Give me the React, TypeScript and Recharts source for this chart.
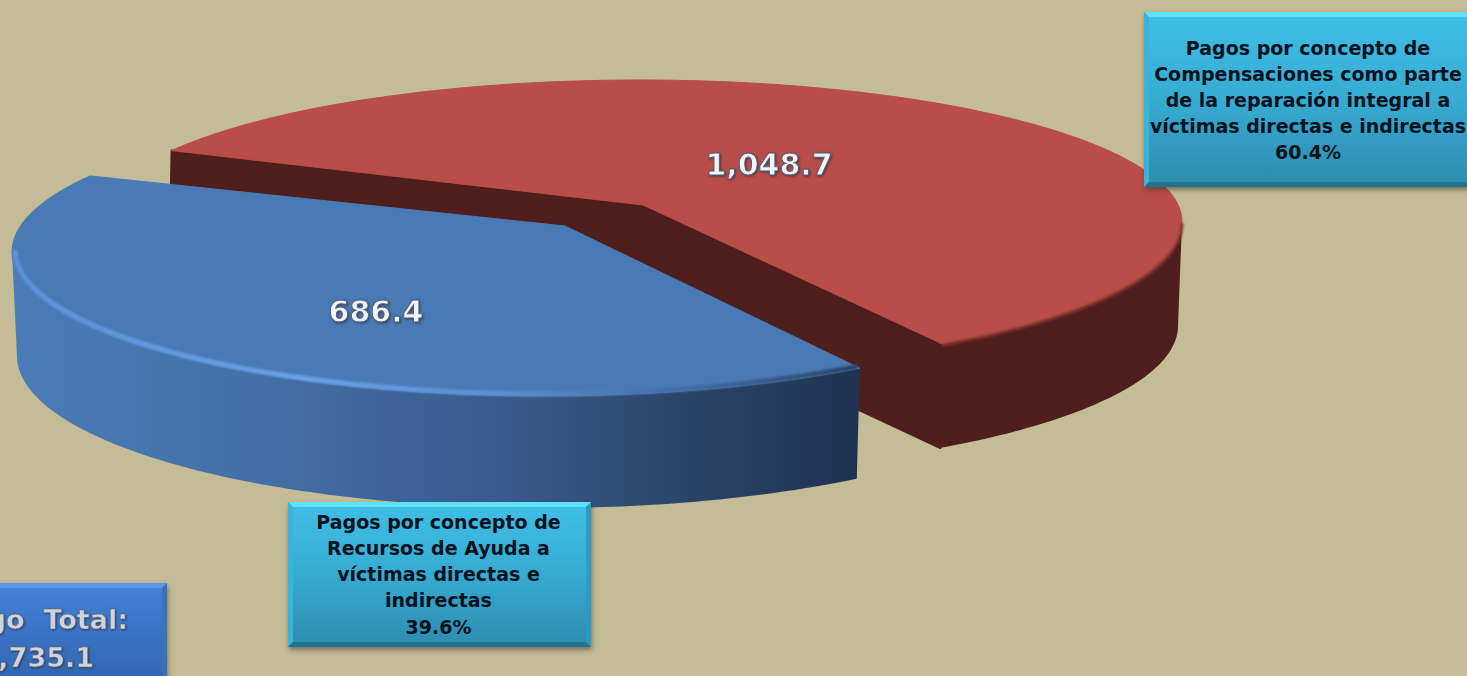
import React from "react";
import { PieChart, Pie, Cell } from "recharts";

// ---- data ----
const categories = ["Compensaciones", "Recursos de Ayuda"];
const seriesValues = [1048.7, 686.4];
const valueLabels = ["1,048.7", "686.4"];
const compensacionLines = [
  "Pagos por concepto de",
  "Compensaciones como parte",
  "de la reparación integral a",
  "víctimas directas e indirectas",
  "60.4%",
];
const ayudaLines = [
  "Pagos por concepto de",
  "Recursos de Ayuda a",
  "víctimas directas e",
  "indirectas",
  "39.6%",
];
const totalLines = ["Pago\u00A0\u00A0Total:", "1,735.1"];

const tableData = categories.map((name, i) => ({ name, value: seriesValues[i], idx: i }));

// ---- layout / style (not data) ----
const W = 1467;
const H = 676;
const BG = "#c4bc96";
const FONT = "'DejaVu Sans', Verdana, sans-serif";

const slices = [
  {
    cx: 640, cy: 222, rx: 542, ry: 142, ryFront: 147, ryBase: 147, ax: 643, ay: 205, dy: 104, shrink: 4,
    from: -56.1, to: 149.8, top: "#b84d49", wall: "#4e1e1c", wallFill: "#4e1e1c",
    wallFrom: -56.1, wallTo: 0, labelX: 769, labelY: 175,
  },
  {
    cx: 545, cy: 252, rx: 533, ry: 146, ryFront: 144, ryBase: 152, ax: 565, ay: 226, dy: 104, shrink: 5,
    from: 148.6, to: 306.2, top: "#4a7ab5", wall: "#1f3350", wallFill: "url(#blueWall)",
    wallFrom: 180, wallTo: 306.2, labelX: 376, labelY: 322,
  },
];

const pt = (s: any, deg: number, dx = 0, dy = 0, base = false) => {
  const r = (deg * Math.PI) / 180;
  const sn = Math.sin(r);
  const ry = sn < 0 ? (base ? s.ryBase : s.ryFront) : s.ry;
  return [s.cx + (s.rx + dx) * Math.cos(r), s.cy + dy - ry * sn];
};

const arcPts = (s: any, a: number, b: number, dx = 0, dy = 0, base = false) => {
  const out: number[][] = [];
  const n = Math.max(8, Math.ceil(Math.abs(b - a)));
  for (let i = 0; i <= n; i++) out.push(pt(s, a + ((b - a) * i) / n, dx, dy, base));
  return out;
};

const toPath = (pts: number[][], close = false) =>
  pts.map((p, i) => `${i ? "L" : "M"}${p[0].toFixed(1)} ${p[1].toFixed(1)}`).join(" ") + (close ? " Z" : "");

// Tilted, exploded slice: recharts supplies the angular layout, the slice is projected on its ellipse.
const Slice3D = (props: any) => {
  const idx = props.idx ?? props.payload?.idx ?? 0;
  const s = slices[idx];
  const span = props.endAngle - props.startAngle;
  const project = (a: number) => s.from + ((a - props.startAngle) / span) * (s.to - s.from);
  const start = project(props.startAngle);
  const end = project(props.endAngle);
  const topArc = arcPts(s, start, end);
  const topPath = toPath([[s.ax, s.ay], ...topArc], true);

  const a0 = pt(s, start);
  const a1 = pt(s, end);
  const cut = (p: number[]) => [p, [s.ax, s.ay], [s.ax, s.ay + s.dy], [p[0] - 2, p[1] + s.dy]];
  const wallTop = arcPts(s, s.wallFrom, s.wallTo);
  const wallBottom = arcPts(s, s.wallFrom, s.wallTo, -s.shrink, s.dy, true).reverse();
  const rim = idx === 1 ? arcPts(s, s.wallFrom, s.wallTo, -3, -2) : arcPts(s, s.wallFrom, s.wallTo, 0, 1);

  return (
    <g>
      {idx === 0 && (
        <>
          <path d={toPath(cut(a0), true)} fill={s.wall} stroke={s.wall} strokeWidth={2} strokeLinejoin="round" />
          <path d={toPath(cut(a1), true)} fill={s.wall} stroke={s.wall} strokeWidth={2} strokeLinejoin="round" />
        </>
      )}
      <path d={toPath([...wallTop, ...wallBottom], true)} fill={s.wallFill} />
      <path d={topPath} fill={s.top} stroke={s.top} strokeWidth={1} strokeLinejoin="round" />
      {idx === 1 ? (
        <path d={toPath(rim)} fill="none" stroke="url(#blueRim)" strokeWidth={5} filter="url(#soft)" />
      ) : (
        <path d={toPath(rim)} fill="none" stroke="#84352f" strokeWidth={3} filter="url(#soft)" />
      )}
    </g>
  );
};

const Box = ({ x, y, w, h, lines, lineYs, textX, blue }: any) => {
  const b = 5;
  const c = blue
    ? { fill: "url(#boxBlue)", top: "#5f97e6", left: "#3f78c4", right: "#3a70bc", bottom: "#2a5a9a" }
    : { fill: "url(#boxCyan)", top: "#5fe2f8", left: "#38b4da", right: "#2f9ac0", bottom: "#237290" };
  return (
    <g>
      <rect x={x + 1} y={y + 3} width={w} height={h} fill="#3a3a2c" opacity={0.55} filter="url(#shadow)" />
      <rect x={x} y={y} width={w} height={h} fill={c.fill} />
      <polygon points={`${x},${y} ${x + w},${y} ${x + w - b},${y + b} ${x + b},${y + b}`} fill={c.top} />
      <polygon points={`${x},${y} ${x + b},${y + b} ${x + b},${y + h - b} ${x},${y + h}`} fill={c.left} />
      <polygon points={`${x + w},${y} ${x + w - b},${y + b} ${x + w - b},${y + h - b} ${x + w},${y + h}`} fill={c.right} />
      <polygon points={`${x},${y + h} ${x + b},${y + h - b} ${x + w - b},${y + h - b} ${x + w},${y + h}`} fill={c.bottom} />
      {lines.map((t: string, i: number) => (
        <text
          key={i}
          x={textX}
          y={lineYs[i]}
          textAnchor="middle"
          fontFamily={FONT}
          fontWeight={700}
          fontSize={19}
          fill="#06121e"
        >
          {t}
        </text>
      ))}
    </g>
  );
};

const TotalBox = () => (
  <g>
    <Box x={-120} y={583} w={287} h={110} lines={[]} lineYs={[]} blue />
    {totalLines.map((t, i) => (
      <text
        key={t}
        x={i === 0 ? 128 : 94}
        y={i === 0 ? 629 : 667}
        textAnchor="end"
        fontFamily={FONT}
        fontWeight={700}
        fontSize={27}
        fill="#cfd4dc"
        stroke="#5a6470"
        strokeWidth={0.5}
        filter="url(#textShadow)"
      >
        {t}
      </text>
    ))}
  </g>
);

// Label layer sits above the slices, so the call-outs go here with each slice's value.
const SliceLabel = (props: any) => {
  const i = props.index;
  const s = slices[i];
  return (
    <g>
      {i === 0 ? (
        <Box x={1144} y={12} w={330} h={175} textX={1308} lines={compensacionLines} lineYs={[55, 81, 107, 133, 159]} />
      ) : (
        <>
          <Box x={288} y={502} w={303} h={145} textX={438.5} lines={ayudaLines} lineYs={[529, 555, 581, 607, 634]} />
          <TotalBox />
        </>
      )}
      <text
        x={s.labelX}
        y={s.labelY}
        textAnchor="middle"
        fontFamily={FONT}
        fontWeight={700}
        fontSize={30}
        fill="#f1f4f8"
        stroke="#4a5a78"
        strokeWidth={0.9}
        filter="url(#textShadow)"
      >
        {valueLabels[i]}
      </text>
    </g>
  );
};

export default function App() {
  return (
    <div style={{ position: "fixed", left: 0, top: 0, width: W, height: H, background: BG, overflow: "hidden" }}>
      <PieChart width={W} height={H} style={{ background: BG }}>
        <defs>
          <linearGradient id="blueWall" gradientUnits="userSpaceOnUse" x1="12" y1="0" x2="860" y2="0">
            <stop offset="0" stopColor="#4a7cb8" />
            <stop offset="0.3" stopColor="#436fa6" />
            <stop offset="0.6" stopColor="#38598a" />
            <stop offset="0.8" stopColor="#2a4467" />
            <stop offset="1" stopColor="#1f3350" />
          </linearGradient>
          <linearGradient id="blueRim" gradientUnits="userSpaceOnUse" x1="12" y1="0" x2="860" y2="0">
            <stop offset="0" stopColor="#5c92d8" />
            <stop offset="0.35" stopColor="#6aa2e6" />
            <stop offset="0.6" stopColor="#5a8ccc" />
            <stop offset="0.85" stopColor="#3c6298" />
            <stop offset="1" stopColor="#2a4467" />
          </linearGradient>
          <linearGradient id="boxCyan" x1="0" y1="0" x2="0" y2="1">
            <stop offset="0" stopColor="#3fbfe6" />
            <stop offset="0.5" stopColor="#37abd2" />
            <stop offset="1" stopColor="#2d8cae" />
          </linearGradient>
          <linearGradient id="boxBlue" x1="0" y1="0" x2="0" y2="1">
            <stop offset="0" stopColor="#4482da" />
            <stop offset="1" stopColor="#2f62ac" />
          </linearGradient>
          <filter id="soft" x="-5%" y="-20%" width="110%" height="140%">
            <feGaussianBlur stdDeviation="1.2" />
          </filter>
          <filter id="shadow" x="-5%" y="-10%" width="110%" height="120%">
            <feGaussianBlur stdDeviation="2.5" />
          </filter>
          <filter id="textShadow" x="-10%" y="-20%" width="120%" height="140%">
            <feDropShadow dx="1" dy="1" stdDeviation="1" floodColor="#2b2b3a" floodOpacity="0.7" />
          </filter>
        </defs>
        <Pie
          data={tableData}
          dataKey="value"
          nameKey="name"
          cx={640}
          cy={222}
          outerRadius={540}
          startAngle={-60}
          endAngle={300}
          stroke="none"
          isAnimationActive={false}
          labelLine={false}
          label={SliceLabel}
          shape={Slice3D}
          activeShape={Slice3D}
          inactiveShape={Slice3D}
          rootTabIndex={-1}
        >
          {tableData.map((d) => (
            <Cell key={d.name} />
          ))}
        </Pie>
      </PieChart>
    </div>
  );
}
